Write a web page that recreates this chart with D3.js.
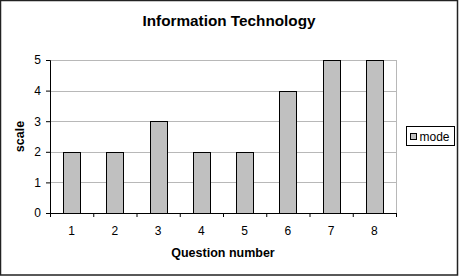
<!DOCTYPE html>
<html>
<head>
<meta charset="utf-8">
<script src="https://cdn.jsdelivr.net/npm/d3@7"></script>
<style>
  body { margin: 0; background: #fff; }
  text { font-family: Arial, "Liberation Sans", sans-serif; fill: #000; }
</style>
</head>
<body>
<div id="chart"></div>
<script>
// Chart data
const questions = ['1', '2', '3', '4', '5', '6', '7', '8']
const modeValues = [2, 2, 3, 2, 2, 4, 5, 5]
const yTicks = [0, 1, 2, 3, 4, 5]

const W = 460, H = 278
let margin = { top: 60, right: 64, bottom: 65, left: 50 }
let width = 396 - margin.left,
    height = 213 - margin.top

let svg = d3.select('#chart').append('svg')
  .attr('width', W)
  .attr('height', H)

// Outer frame
svg.append('rect')
  .attr('x', 0.5).attr('y', 0.5)
  .attr('width', 457).attr('height', 274.5)
  .attr('fill', '#fff')
  .attr('stroke', '#222')
  .attr('stroke-width', 1.5)

let g = svg.append('g')
  .attr('transform', 'translate(' + margin.left + ',' + margin.top + ')')

let xTickScale = d3.scaleLinear().domain([0, questions.length]).range([0, width])

let yScale = d3.scaleLinear()
  .domain([0, 5])
  .range([height, 0])

// Gridlines
g.selectAll('.grid')
  .data(yTicks.filter(d => d > 0))
  .enter().append('line')
  .attr('x1', 0).attr('x2', width)
  .attr('y1', d => Math.round(yScale(d)) + 0.5)
  .attr('y2', d => Math.round(yScale(d)) + 0.5)
  .attr('stroke', '#b8b8b8')

// Right border of plot area
g.append('line')
  .attr('x1', width + 0.5).attr('x2', width + 0.5)
  .attr('y1', 0).attr('y2', height)
  .attr('stroke', '#b8b8b8')

// Bars
let step = xTickScale(1) - xTickScale(0)
g.selectAll('.bar')
  .data(modeValues)
  .enter().append('rect')
  .attr('x', (d, i) => Math.round(xTickScale(i) + step / 2 - 8.5) + 0.5)
  .attr('width', 17)
  .attr('y', d => Math.round(yScale(d)) + 0.5)
  .attr('height', d => Math.round(height) - Math.round(yScale(d)))
  .attr('fill', '#c0c0c0')
  .attr('stroke', '#000')

// Y axis
let yAxis = d3.axisLeft(yScale).tickValues(yTicks).tickFormat(d3.format('d')).tickSize(4).tickPadding(5)
let yg = g.append('g').call(yAxis)
yg.select('.domain').attr('stroke', '#000')
yg.selectAll('.tick line').attr('stroke', '#000')
yg.selectAll('.tick text').style('font-size', '12px')

// X axis
let xAxis = d3.axisBottom(xTickScale)
  .tickValues(d3.range(0, questions.length + 1))
  .tickFormat('')
  .tickSize(4)
  .tickSizeOuter(0)
let xg = g.append('g')
  .attr('transform', 'translate(0,' + height + ')')
  .call(xAxis)
xg.select('.domain').attr('stroke', '#000')
xg.selectAll('.tick line').attr('stroke', '#000')

g.selectAll('.xlabel')
  .data(questions)
  .enter().append('text')
  .attr('x', (d, i) => xTickScale(i + 0.5))
  .attr('y', height + 22)
  .attr('text-anchor', 'middle')
  .style('font-size', '12px')
  .text(d => d)

// Titles
svg.append('text')
  .attr('x', 229)
  .attr('y', 26)
  .attr('text-anchor', 'middle')
  .style('font-size', '15.3px')
  .style('font-weight', 'bold')
  .text('Information Technology')

svg.append('text')
  .attr('x', margin.left + width / 2)
  .attr('y', 257)
  .attr('text-anchor', 'middle')
  .style('font-size', '12.5px')
  .style('font-weight', 'bold')
  .text('Question number')

svg.append('text')
  .attr('transform', 'translate(24,' + (margin.top + height / 2) + ') rotate(-90)')
  .attr('text-anchor', 'middle')
  .style('font-size', '12.5px')
  .style('font-weight', 'bold')
  .text('scale')

// Legend
let lg = svg.append('g').attr('transform', 'translate(406.5,126.5)')
lg.append('rect')
  .attr('width', 48).attr('height', 19)
  .attr('fill', '#fff').attr('stroke', '#000')
lg.append('rect')
  .attr('x', 4).attr('y', 7)
  .attr('width', 6).attr('height', 6)
  .attr('fill', '#c0c0c0').attr('stroke', '#000')
lg.append('text')
  .attr('x', 13).attr('y', 14)
  .style('font-size', '12px')
  .text('mode')
</script>
</body>
</html>
